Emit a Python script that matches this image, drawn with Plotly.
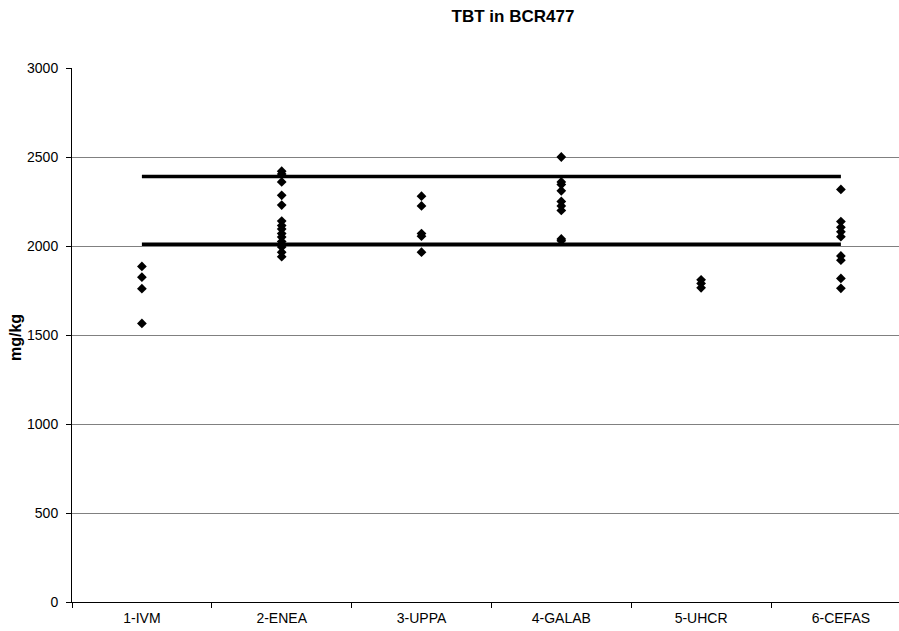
import plotly.graph_objects as go

categories = ["1-IVM", "2-ENEA", "3-UPPA", "4-GALAB", "5-UHCR", "6-CEFAS"]

ivm = [1885, 1825, 1760, 1565]
enea = [2420, 2405, 2360, 2285, 2230, 2140, 2115, 2095, 2070, 2050, 2025, 1995, 1965, 1940]
uppa = [2280, 2225, 2070, 2055, 1965]
galab = [2500, 2360, 2345, 2310, 2250, 2225, 2200, 2040, 2030]
uhcr = [1810, 1790, 1765]
cefas = [2318, 2137, 2105, 2080, 2052, 1944, 1920, 1818, 1762]

series_values = [ivm, enea, uppa, galab, uhcr, cefas]

upper_limit = 2390
lower_limit = 2010

y_ticks = [0, 500, 1000, 1500, 2000, 2500, 3000]

fig = go.Figure()

xs, ys = [], []
for cat, vals in zip(categories, series_values):
    xs += [cat] * len(vals)
    ys += vals

for lim in (upper_limit, lower_limit):
    fig.add_trace(go.Scatter(
        x=[categories[0], categories[-1]], y=[lim, lim],
        mode="lines", line=dict(color="black", width=3.5),
        showlegend=False, hoverinfo="skip"))

fig.add_trace(go.Scatter(
    x=xs, y=ys, mode="markers",
    marker=dict(symbol="diamond", size=7.5, color="black"),
    showlegend=False))

W, H = 899, 631
L, T = 72, 68
bottom_px = 602
B = H - bottom_px
plot_w = W - L
plot_h = bottom_px - T
cat_px = 139.8
x_max = -0.5 + plot_w / cat_px

fig.update_layout(
    width=W, height=H,
    margin=dict(l=L, r=0, t=T, b=B, autoexpand=False),
    paper_bgcolor="white", plot_bgcolor="white",
    font=dict(family="Liberation Sans, Arial, sans-serif", size=14, color="black"),
    title=dict(text="<b>TBT in BCR477</b>", x=513 / W, xref="container", xanchor="center",
               y=1 - 16 / H, yref="container", yanchor="middle",
               font=dict(size=17, color="black")),
    xaxis=dict(
        type="category", categoryorder="array", categoryarray=categories,
        range=[-0.5, x_max], showgrid=False, zeroline=False, automargin=False,
        showline=True, linecolor="black", linewidth=1,
        ticks="outside", tickson="boundaries", ticklen=5, tickcolor="black",
        ticklabelstandoff=3, tickfont=dict(size=14)),
    yaxis=dict(
        range=[0, 3000], tickvals=y_ticks, showgrid=True, gridcolor="#808080", gridwidth=1,
        zeroline=False, showline=True, linecolor="black", linewidth=1, automargin=False,
        ticks="outside", ticklen=5, tickcolor="black", ticklabelstandoff=5,
        tickfont=dict(size=14)),
    annotations=[dict(
        text="<b>mg/kg</b>", textangle=-90, xref="paper", yref="paper",
        x=-(L - 15) / plot_w, y=(bottom_px - 337) / plot_h,
        xanchor="center", yanchor="middle", showarrow=False,
        font=dict(size=16, color="black"))],
)

fig.write_html(
    "out.html",
    config={"displayModeBar": False},
    post_script="document.body.style.margin='0';document.body.style.overflow='hidden';",
)
